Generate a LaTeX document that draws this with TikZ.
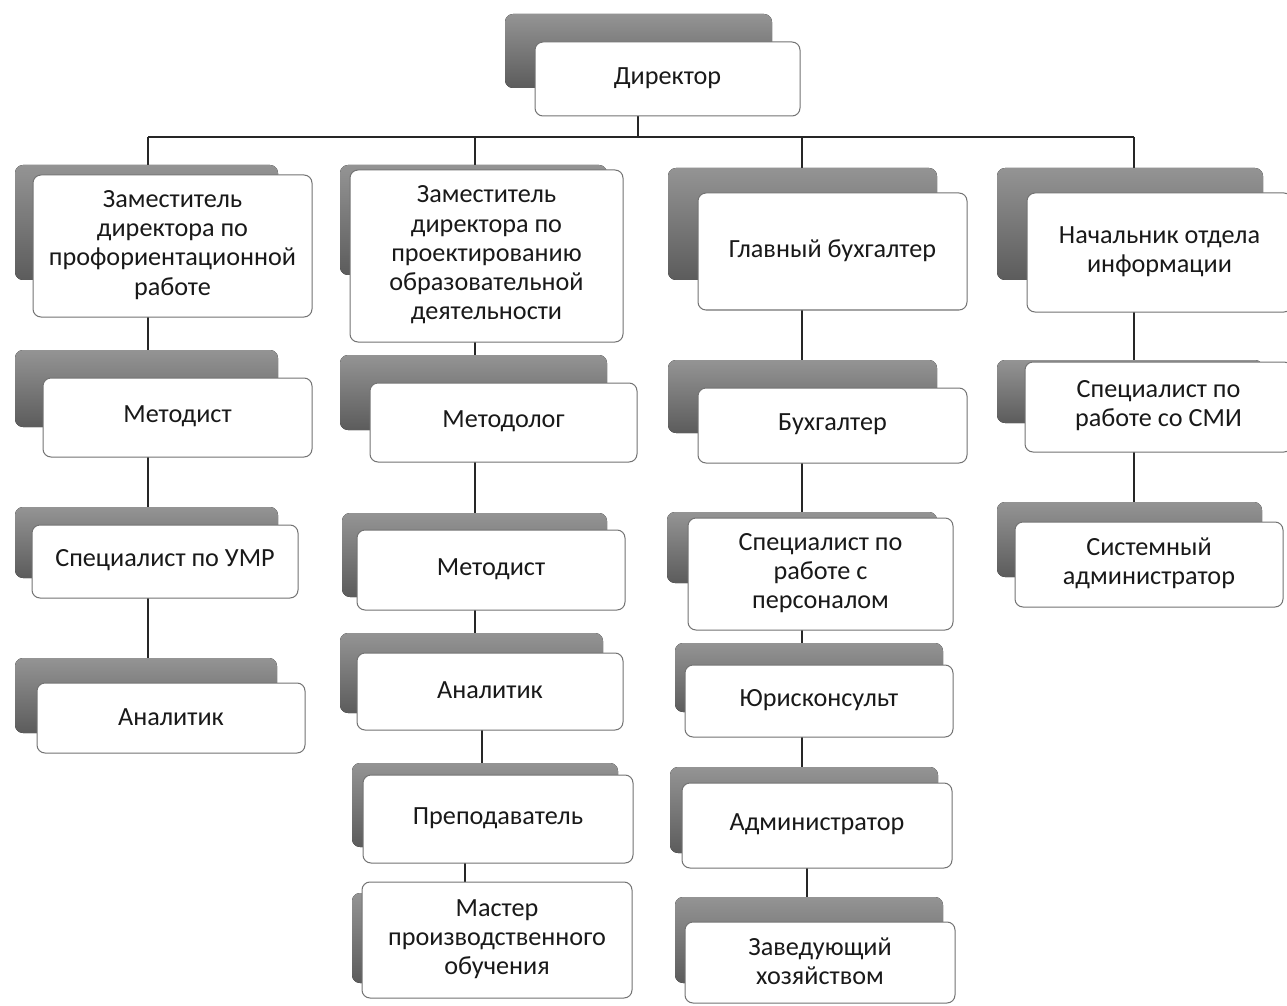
\documentclass[tikz,border=0pt]{standalone}
\usepackage{fontspec}
\setmainfont{Carlito}
\usetikzlibrary{fit,backgrounds}
\tikzset{
  backbox/.style={rounded corners=4pt, top color=black!42, bottom color=black!64},
  frontbox/.style={draw=black!55, line width=0.5pt, fill=white, rounded corners=4pt,
    inner sep=0pt, outer sep=0pt},
  boxtext/.style={align=center, text=black!90, inner sep=0pt, anchor=center,
    font=\fontsize{13.1}{14.6}\selectfont},
  conn/.style={draw=black!85, line width=0.9pt}
}
\newcommand\orgbox[6]{%
  \fill[backbox] #2 rectangle #3;
  \node[frontbox, fit={#4 #5}] (#1) {};
  \node[boxtext] (#1-t) at ([yshift=0.5pt]#1.center) {#6};
}
\begin{document}
\begin{tikzpicture}[x=0.5pt,y=-0.5pt]
\useasboundingbox (0,0) rectangle (1287,1006);
% boxes
\orgbox{dir}{(505,14)}{(772,88)}{(535,42)}{(800,116)}{Директор}
\orgbox{z1}{(15,165)}{(278,280)}{(33,175)}{(312,317)}{Заместитель\\директора по\\профориентационной\\работе}
\orgbox{m1}{(15,350)}{(278,427)}{(43,378)}{(312,457)}{Методист}
\orgbox{u1}{(15,507)}{(278,578)}{(32,525)}{(298,598)}{Специалист по УМР}
\orgbox{a1}{(15,658)}{(277,733)}{(37,683)}{(305,753)}{Аналитик}
\orgbox{z2}{(340,165)}{(607,275)}{(350,170)}{(623,342)}{Заместитель\\директора по\\проектированию\\образовательной\\деятельности}
\orgbox{ml2}{(340,355)}{(607,430)}{(370,383)}{(637,462)}{Методолог}
\orgbox{m2}{(342,513)}{(607,597)}{(357,530)}{(625,610)}{Методист}
\orgbox{a2}{(340,633)}{(603,713)}{(357,653)}{(623,730)}{Аналитик}
\orgbox{p2}{(352,763)}{(618,847)}{(363,775)}{(633,863)}{Преподаватель}
\orgbox{mp2}{(352,893)}{(620,983)}{(362,882)}{(632,998)}{Мастер\\производственного\\обучения}
\orgbox{gb3}{(668,168)}{(937,280)}{(698,193)}{(967,310)}{Главный бухгалтер}
\orgbox{b3}{(668,360)}{(937,433)}{(698,388)}{(967,463)}{Бухгалтер}
\orgbox{sp3}{(667,512)}{(937,583)}{(688,518)}{(953,630)}{Специалист по\\работе с\\персоналом}
\orgbox{yu3}{(675,643)}{(943,712)}{(685,665)}{(953,737)}{Юрисконсульт}
\orgbox{ad3}{(670,767)}{(938,853)}{(682,783)}{(952,868)}{Администратор}
\orgbox{zh3}{(675,897)}{(943,983)}{(685,922)}{(955,1003)}{Заведующий\\хозяйством}
\orgbox{no4}{(997,168)}{(1263,280)}{(1027,193)}{(1292,312)}{Начальник отдела\\информации}
\orgbox{smi4}{(997,360)}{(1263,423)}{(1025,362)}{(1292,452)}{Специалист по\\работе со СМИ}
\orgbox{sa4}{(997,502)}{(1262,577)}{(1015,522)}{(1283,607)}{Системный\\администратор}
% bus coordinates
\coordinate (bus) at (638,137);
\coordinate (c1) at (148,137);
\coordinate (c2) at (475,137);
\coordinate (c3) at (802,137);
\coordinate (c4) at (1134,137);
\coordinate (c2b) at (482,0);
\coordinate (c2c) at (465,0);
\coordinate (c3b) at (807,0);
\begin{pgfonlayer}{background}
\draw[conn] (dir.south -| bus) -- (bus);
\draw[conn] (c1) -- (c4);
\draw[conn] (c1) -- (c1 |- z1.north);
\draw[conn] (c2) -- (c2 |- z2.north);
\draw[conn] (c3) -- (c3 |- gb3.north);
\draw[conn] (c4) -- (c4 |- no4.north);
% column 1
\draw[conn] (z1.south -| c1) -- (m1.north -| c1);
\draw[conn] (m1.south -| c1) -- (u1.north -| c1);
\draw[conn] (u1.south -| c1) -- (a1.north -| c1);
% column 2
\draw[conn] (z2.south -| c2) -- (ml2.north -| c2);
\draw[conn] (ml2.south -| c2) -- (m2.north -| c2);
\draw[conn] (m2.south -| c2) -- (a2.north -| c2);
\draw[conn] (a2.south -| c2b) -- (p2.north -| c2b);
\draw[conn] (p2.south -| c2c) -- (mp2.north -| c2c);
% column 3
\draw[conn] (gb3.south -| c3) -- (b3.north -| c3);
\draw[conn] (b3.south -| c3) -- (sp3.north -| c3);
\draw[conn] (sp3.south -| c3) -- (yu3.north -| c3);
\draw[conn] (yu3.south -| c3) -- (ad3.north -| c3);
\draw[conn] (ad3.south -| c3b) -- (zh3.north -| c3b);
% column 4
\draw[conn] (no4.south -| c4) -- (smi4.north -| c4);
\draw[conn] (smi4.south -| c4) -- (sa4.north -| c4);
\end{pgfonlayer}
\end{tikzpicture}
\end{document}
